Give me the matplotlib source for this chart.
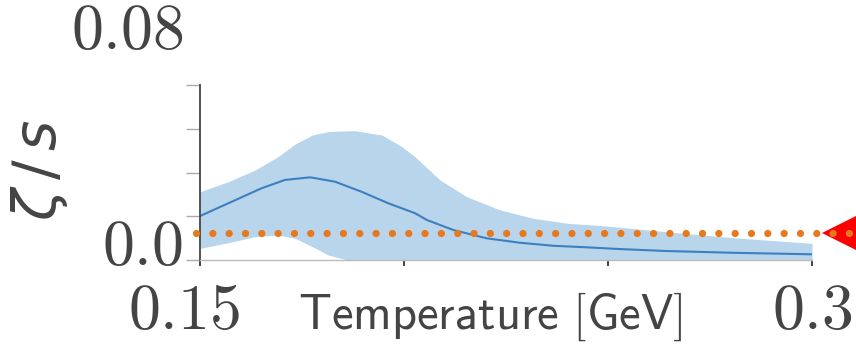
import numpy as np
import matplotlib
matplotlib.use("Agg")
import matplotlib.pyplot as plt
from matplotlib.transforms import ScaledTranslation

plt.rcParams['mathtext.fontset'] = 'cm'

# posterior mean of zeta/s vs temperature
temp_mean = [0.150, 0.1569, 0.1651, 0.1708, 0.1770, 0.1831, 0.1896, 0.1962,
             0.2027, 0.2056, 0.2121, 0.2203, 0.2284, 0.2366, 0.2448, 0.2529,
             0.2644, 0.2807, 0.300]
zeta_mean = [0.0201, 0.0259, 0.0328, 0.0366, 0.0378, 0.0358, 0.0312, 0.0259,
             0.0214, 0.0183, 0.0137, 0.0099, 0.0079, 0.0065, 0.0058, 0.0050,
             0.0041, 0.0033, 0.0026]

# credible band
temp_band = [0.150, 0.1569, 0.1635, 0.1691, 0.1733, 0.1775, 0.1814, 0.1855,
             0.1880, 0.1946, 0.1995, 0.2027, 0.2088, 0.2154, 0.2235, 0.2316,
             0.2399, 0.2480, 0.2645, 0.2806, 0.300]
zeta_upper = [0.0312, 0.0358, 0.0411, 0.0472, 0.0530, 0.0571, 0.0587, 0.0590,
              0.0591, 0.0571, 0.0518, 0.0472, 0.0366, 0.0289, 0.0229, 0.0191,
              0.0168, 0.0158, 0.0129, 0.0102, 0.0076]
zeta_lower = [0.0053, 0.0079, 0.0107, 0.0114, 0.0099, 0.0061, 0.0023, 0.0003,
              -0.002, -0.003, -0.003, -0.003, -0.003, -0.003, -0.003, -0.003,
              -0.002, -0.002, -0.002, -0.001, -0.001]

# constant reference value
const_T = [0.149, 0.314]
const_zeta = [0.0123, 0.0123]
marker_T = [0.3098]
marker_zeta = [0.0123]

xticks = [0.15, 0.2, 0.25, 0.3]
xticklabels = ['$0.15$', '', '', '$0.3$']
yticks = [0.0, 0.02, 0.04, 0.06, 0.08]
yticklabels = ['$0.0$', '', '', '', '$0.08$']

textc = '#444444'

fig = plt.figure(figsize=(8.56, 3.44), dpi=100)
ax = fig.add_axes([200/856, 84/344, 612/856, 175/344])

ax.fill_between(temp_band, zeta_lower, zeta_upper, color='#b8d5eb', lw=0)
ax.plot(temp_mean, zeta_mean, color='#3d7fc0', lw=1.5)
ax.plot(marker_T, marker_zeta, marker='<', ms=43, color='red', mew=0,
        clip_on=False, zorder=3)
ax.plot(const_T, const_zeta, color='#e8781c', lw=5.2, ls=(0, (0.01, 2.25)),
        dash_capstyle='round', clip_on=False, zorder=4)

ax.set_xlim(0.15, 0.3)
ax.set_ylim(0.0, 0.08)

ax.spines['top'].set_visible(False)
ax.spines['right'].set_visible(False)
ax.spines['left'].set_color(textc)
ax.spines['left'].set_linewidth(1.3)
ax.spines['bottom'].set_color('#bbbbbb')
ax.spines['bottom'].set_linewidth(1.0)

ax.set_xticks(xticks)
ax.set_xticklabels(xticklabels, fontsize=46, color=textc)
ax.set_yticks(yticks)
ax.set_yticklabels(yticklabels, fontsize=46, color=textc)
ax.tick_params(axis='y', length=10, width=1, color='#aaaaaa', pad=2)
ax.tick_params(axis='x', length=4, width=1.2, color='#222222', pad=10.5)

# shift a few tick labels like in the original layout
dpi = fig.dpi
ylabs = ax.get_yticklabels()
ylabs[0].set_transform(ylabs[0].get_transform() + ScaledTranslation(0, 19/dpi, fig.dpi_scale_trans))
ylabs[-1].set_transform(ylabs[-1].get_transform() + ScaledTranslation(0, 60/dpi, fig.dpi_scale_trans))
xlabs = ax.get_xticklabels()
xlabs[0].set_transform(xlabs[0].get_transform() + ScaledTranslation(-16/dpi, 0, fig.dpi_scale_trans))

fig.text(490/856, 1 - 317/344, r'$\mathsf{Temperature\ [GeV]}$', fontsize=35,
         color=textc, ha='center', va='center')
fig.text(40/856, 1 - 170/344, r'$\zeta\,/\,s$', fontsize=42, color=textc,
         ha='center', va='center', rotation=90, math_fontfamily='dejavusans')

fig.savefig('out.png', dpi=100)
